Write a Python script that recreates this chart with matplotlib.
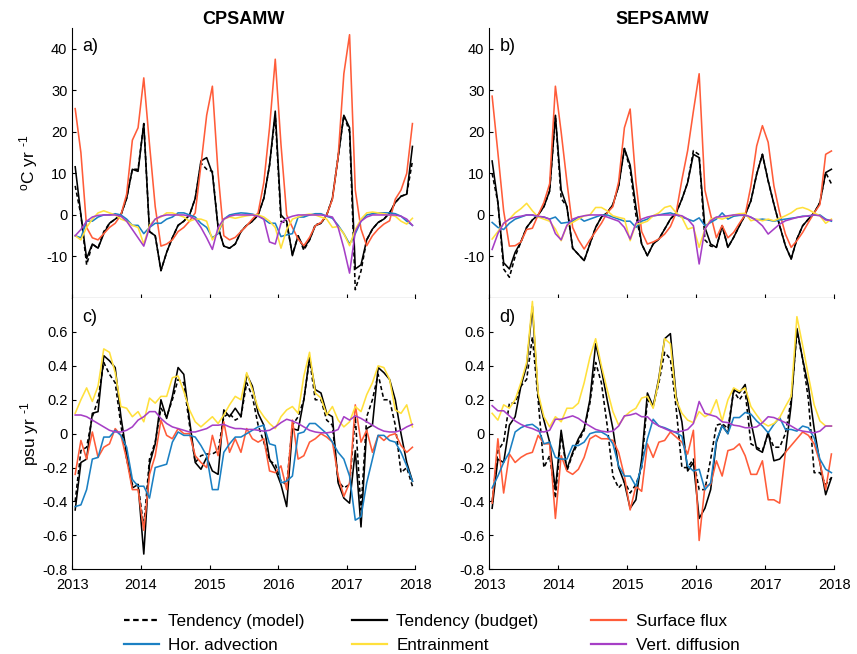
import numpy as np
import matplotlib
matplotlib.use('Agg')
import matplotlib.pyplot as plt
from matplotlib.lines import Line2D
from matplotlib.ticker import FuncFormatter

plt.rcParams['font.family'] = ['Liberation Sans', 'DejaVu Sans']
plt.rcParams['mathtext.fontset'] = 'custom'
plt.rcParams['mathtext.rm'] = 'Liberation Sans'
plt.rcParams['mathtext.it'] = 'Liberation Sans:italic'

# monthly budget terms, Jan 2013 - Dec 2017
years = [2013, 2014, 2015, 2016, 2017, 2018]
n_months = 60

# ---- temperature, CPSAMW (degC/yr)
t_cp_model = [7, 0, -12, -7, -8, -4, -2, -1, 0, 4, 11, 11, 22, -4, -5, -13.4, -9, -5.5, -2.5, -1.5,
              0, 4, 12.5, 11, 10.5, -3, -7.5, -8, -7, -4, -2.5, -1.5, 0, 4, 12, 24, -1.5, -2, -9.5, -5,
              -8.5, -6, -2.3, -2, 0, 4, 14, 24, 20, -18, -13.5, -6, -3.4, -1.8, -1, 0.5, 3, 4.5, 5, 13]
t_cp_budget = [11.6, 0, -10.5, -7, -8, -4.5, -2, -1, 0, 4, 11, 10.5, 22, -4, -5, -13.4, -9, -5.5, -2.5, -1.5,
               0, 4, 13, 13.8, 10, -3, -7.5, -8, -7, -4, -2.5, -1.5, 0, 4, 12, 25, 0, -1.5, -9.8, -5,
               -8, -6, -2.6, -2, 0, 4, 14, 24, 21, -13, -12, -6, -3.4, -1.8, -1, 0.5, 3, 4.5, 5, 16.5]
t_cp_sflux = [25.6, 15, -3, -5.5, -6, -4.5, -3, -2, 0, 5, 18, 21, 33, 17, 2, -7.5, -7, -6, -4, -3,
              -1.5, 0.5, 12, 24, 31, 10, -5, -6, -5.4, -4, -2.6, -1, 0.5, 7.8, 21, 37.5, 17, 0, -3, -5.8,
              -7.4, -5.4, -2.6, -1.8, 0, 3.8, 14, 34, 43.4, 6, -3.4, -7.4, -5, -3.4, -2.2, -1.4, 3.8, 6, 10, 22]
t_cp_hadv = [-5, -5.5, -1.5, -1.5, -0.5, 0, 0, 0.3, 0, -1, -2.5, -2.5, -4.5, -3, -2, -2, -1, -0.5, 0.5, 0.5,
             0, -0.5, -2, -3, -5.5, -4.5, -1, 0, 0.3, 0.5, 0.4, 0.2, -0.2, -1, -2, -2, -5.2, -4.8, -4.5, -0.5,
             -0.5, 0, 0.3, 0.3, -0.3, -0.8, -2.5, -4.5, -7, -4.5, -1.5, 0, 0.3, 0.5, 0.5, 0.5, 0.3, -0.3, -1.5, -2.5]
t_cp_entr = [-5, -6, -3, -1, 0.5, 1, 0.5, 0, -1, -1.5, -2.5, -3, -7, -2.5, -1, -0.5, 0.5, 0.5, 0, -0.5,
             -1.5, -1, -1, -1.5, -6, -4, -1, -0.5, -0.8, -0.5, -0.2, 0, 0, -0.5, -1.5, -3, -8, -3.5, -1, -0.5,
             0, 0.2, 0, -0.5, -1, -3, -2.8, -4.5, -7.4, -3.5, -1, 0.5, 0.7, 0.5, 0.3, 0, -0.3, -1.5, -2.2, -0.8]
t_cp_vdiff = [-5, -3.5, -1.5, -0.5, -0.1, 0, 0, 0, -0.3, -1.5, -3.5, -5.5, -7.5, -3, -1, -0.3, 0, 0, 0, 0,
              -0.3, -1, -3, -5.5, -8.3, -3, -1, -0.3, 0, 0, 0, 0, -0.3, -1, -6.5, -7, -2, -0.8, -0.3, 0,
              0, 0, 0, 0, -0.2, -0.5, -3, -8, -14, -4, -1.5, -0.5, 0, 0, 0, 0, 0, -0.3, -1, -2.5]

# ---- temperature, SEPSAMW (degC/yr)
t_se_model = [10, 3, -13, -15, -10, -6.5, -3, -1.2, 0, 2, 5.8, 24, 4, 2, -8, -9.5, -11, -7, -3, -0.5,
              0.5, 2.5, 7, 16, 11, 0, -7, -9.8, -7, -5.8, -3.4, -1, 0.5, 3.8, 7.8, 15.5, 14.5, -6, -7.5, -7.8,
              -2.6, -7.8, -5.4, -2.6, 0, 3.4, 9.8, 14.6, 8.2, 2.6, -2.6, -7.4, -10.6, -5.8, -2.6, -1, 0.5, 3, 10.2, 7.5]
t_se_budget = [13, 3, -11.5, -13, -9, -6.5, -3, -1.2, 0, 2, 5.8, 24, 6, 2, -8, -9.5, -11, -7, -3, -0.5,
               0.5, 2.5, 7, 16, 12, 2, -7, -9.8, -7, -5.8, -3.4, -1, 0.5, 3.8, 7.8, 14.6, 13.8, -3, -7, -7.8,
               -2.6, -7.8, -5.4, -2.6, 0, 3.4, 9.8, 14.6, 8.2, 2.6, -2.6, -7.4, -10.6, -5.8, -2.6, -1, 0.5, 3, 10.2, 11]
t_se_sflux = [28.6, 15, 1, -7.5, -7.4, -6.5, -3.5, -3.2, 0, 3, 7.5, 31, 20, 8, -3, -6, -8.2, -6, -4, -2,
              0.5, 2, 8, 21, 25.5, 8, -4, -7, -6.5, -5.8, -4.6, -2.8, 0.5, 8.5, 15.5, 25, 34, 6, 0, -5.5,
              -2.5, -5.5, -4.2, -2, 0, 7, 16.6, 21.5, 17.5, 7, 0.5, -4.6, -7.8, -6.2, -4.2, -1.8, 0.5, 2.5, 14.6, 15.4]
t_se_hadv = [-1.8, -3, -3.5, -2, -1, -0.5, 0, 0, -0.5, -0.5, -1, -0.5, -2, -1.8, -1.5, -0.5, -1.5, -1, -0.5, 0,
             0, -0.5, -1, -1.5, -1.5, -3, -1.5, -1, -0.2, 0, 0.3, 0.5, 0, -0.5, -1, -1.5, -0.7, -2.6, -1.8, -1,
             0.5, -1, -0.3, -0.1, -0.1, -0.6, -1.2, -1, -1.2, -1.5, -1.2, -1, -0.8, -0.6, -0.3, -0.3, 0, 0, -1, -1.5]
t_se_entr = [-5.8, -4, -2, -1, 0.5, 1.5, 2.8, 1, -0.5, -1, -1.5, -3.4, -6.2, -2.6, -1.8, -1, -0.2, 0, 1.8, 1.8,
             1, -0.2, -0.6, -0.9, -6.2, -2.2, -2, -1.5, -0.2, 0.5, 1.8, 2.2, 0.5, -0.6, -3.4, -3, -7.8, -3.4, -1, -0.6,
             -1, -0.5, 0, 0.3, 0.4, -1.4, -1, -1.4, -1, -1.4, -0.8, -0.2, 0.5, 1.5, 1.8, 1.3, 0.5, -0.2, -2, -1]
t_se_vdiff = [-8.3, -4.5, -2, -1, -0.5, -0.3, 0, 0, -0.3, -0.5, -1, -4.5, -6, -2.5, -1, -0.5, -0.2, 0, 0, 0,
              -0.5, -1, -1.5, -3, -5.8, -2, -1, -0.5, -0.2, 0, 0, 0, 0, -0.2, -1, -2.6, -11.8, -3.4, -1.4, -0.5,
              -0.4, -0.2, 0, 0, 0, -0.5, -1.4, -2.6, -4.6, -3.4, -2.2, -1.4, -1, -0.6, -0.4, -0.2, 0, -0.2, -1.2, -1.3]

# ---- salinity, CPSAMW (psu/yr)
s_cp_model = [-0.4, -0.1, -0.08, 0.1, 0.2, 0.42, 0.35, 0.3, 0.05, -0.15, -0.3, -0.3, -0.55, -0.15, -0.05, 0.15, 0.1, 0.2, 0.32, 0.3,
              0.05, -0.17, -0.13, -0.12, -0.12, -0.1, 0.1, 0.12, 0.08, 0.1, 0.3, 0.22, 0.05, -0.05, -0.16, -0.18, -0.28, -0.3, 0.05, 0.1,
              0.2, 0.44, 0.2, 0.2, 0.08, 0.05, -0.28, -0.32, -0.3, 0.1, -0.45, 0.1, 0.2, 0.35, 0.2, 0.2, 0.05, -0.23, -0.2, -0.31]
s_cp_budget = [-0.45, -0.17, -0.15, 0.12, 0.13, 0.46, 0.43, 0.39, 0.1, -0.12, -0.32, -0.3, -0.71, -0.18, -0.06, 0.2, 0.09, 0.22, 0.39, 0.35,
               0.08, -0.17, -0.21, -0.14, -0.22, -0.24, 0.14, 0.1, 0.15, 0.1, 0.35, 0.28, 0.12, 0.05, -0.15, -0.21, -0.3, -0.43, 0.03, 0.02,
               0.2, 0.45, 0.26, 0.24, 0.12, 0.1, -0.29, -0.38, -0.41, -0.1, -0.55, 0.03, 0.05, 0.39, 0.36, 0.32, 0.2, 0, -0.17, -0.28]
s_cp_sflux = [-0.24, -0.04, -0.15, 0.01, -0.14, -0.08, -0.06, 0.03, -0.01, -0.15, -0.33, -0.33, -0.57, -0.24, -0.13, 0.08, -0.01, -0.03, 0.03, 0,
              0, -0.13, -0.17, -0.2, -0.01, -0.13, 0.07, -0.11, -0.03, -0.11, 0.03, -0.03, -0.05, -0.03, -0.22, -0.23, -0.19, -0.33, 0.08, -0.15,
              -0.13, -0.05, -0.03, 0, -0.02, -0.05, -0.25, -0.37, -0.29, 0.17, -0.05, 0.02, -0.11, -0.01, -0.04, -0.01, 0, -0.07, -0.11, -0.08]
s_cp_hadv = [-0.43, -0.42, -0.33, -0.15, -0.14, -0.02, -0.02, 0.02, -0.01, -0.08, -0.27, -0.31, -0.31, -0.38, -0.2, -0.19, -0.18, -0.05, 0.01, -0.01,
             -0.01, -0.02, -0.07, -0.13, -0.33, -0.33, -0.11, -0.06, -0.02, -0.02, 0, 0.02, 0.04, 0.05, -0.06, -0.07, -0.29, -0.28, -0.25, 0,
             0.01, 0.06, 0.06, 0.03, 0, -0.05, -0.11, -0.15, -0.25, -0.51, -0.49, -0.29, -0.15, -0.01, -0.01, -0.04, -0.05, -0.11, -0.19, -0.28]
s_cp_entr = [0.12, 0.2, 0.27, 0.19, 0.28, 0.5, 0.48, 0.36, 0.16, 0.15, 0.1, 0.13, 0.07, 0.21, 0.18, 0.22, 0.22, 0.33, 0.34, 0.25,
             0.14, 0.07, 0.04, 0.07, 0.1, 0.06, 0.11, 0.17, 0.22, 0.2, 0.36, 0.26, 0.15, 0.1, 0.06, 0.03, 0.1, 0.14, 0.16, 0.12,
             0.34, 0.48, 0.24, 0.21, 0.11, 0.16, 0.08, 0.04, 0.07, 0.16, 0.13, 0.23, 0.3, 0.4, 0.39, 0.32, 0.14, 0.12, 0.17, 0.04]
s_cp_vdiff = [0.11, 0.11, 0.1, 0.08, 0.06, 0.04, 0.02, 0.01, 0.01, 0.02, 0.04, 0.08, 0.1, 0.13, 0.13, 0.09, 0.06, 0.04, 0.03, 0.02,
              0.01, 0.01, 0.02, 0.03, 0.05, 0.05, 0.055, 0.04, 0.03, 0.03, 0.025, 0.025, 0.02, 0.015, 0.02, 0.04, 0.065, 0.085, 0.075, 0.06,
              0.04, 0.02, 0.01, 0.005, 0.005, 0.01, 0.025, 0.1, 0.08, 0.105, 0.09, 0.07, 0.05, 0.03, 0.015, 0.01, 0.01, 0.02, 0.04, 0.055]

# ---- salinity, SEPSAMW (psu/yr)
s_se_model = [-0.4, -0.1, -0.05, 0.18, 0.18, 0.28, 0.32, 0.57, 0.2, -0.2, -0.13, -0.38, 0, -0.22, -0.12, -0.05, 0.02, 0.18, 0.42, 0.3,
              0.05, -0.25, -0.32, -0.28, -0.35, -0.3, -0.2, 0.2, 0.16, 0.3, 0.48, 0.44, 0.15, -0.2, -0.2, -0.15, -0.33, -0.33, -0.15, 0.05,
              0.06, 0.03, 0.25, 0.2, 0.25, -0.06, -0.08, -0.1, 0, -0.08, -0.08, 0, 0.2, 0.6, 0.44, 0.2, -0.23, -0.23, -0.3, -0.26]
s_se_budget = [-0.44, -0.15, -0.17, 0.05, 0.1, 0.28, 0.4, 0.75, 0.22, 0.08, -0.05, -0.33, 0.02, -0.21, -0.11, -0.03, 0.03, 0.2, 0.53, 0.38,
               0.2, 0.03, -0.2, -0.29, -0.44, -0.39, -0.15, 0.24, 0.16, 0.33, 0.56, 0.59, 0.22, 0.07, -0.22, -0.17, -0.5, -0.44, -0.33, -0.05,
               0.05, 0, 0.26, 0.24, 0.29, 0.07, -0.09, -0.11, 0.01, -0.16, -0.15, -0.11, 0.17, 0.62, 0.44, 0.28, 0.03, -0.17, -0.36, -0.26]
s_se_sflux = [-0.41, -0.03, -0.35, -0.12, -0.17, -0.14, -0.12, -0.11, -0.01, -0.06, -0.06, -0.5, -0.13, -0.22, -0.24, -0.21, -0.14, -0.03, -0.01, -0.03,
              -0.03, -0.04, -0.11, -0.25, -0.45, -0.31, -0.34, -0.06, -0.14, -0.05, -0.04, 0.01, -0.02, -0.05, -0.12, 0.02, -0.63, -0.31, -0.3, -0.16,
              -0.25, -0.1, -0.09, -0.06, -0.13, -0.24, -0.24, -0.16, -0.39, -0.39, -0.41, -0.11, -0.07, -0.03, 0.01, -0.01, -0.06, -0.17, -0.33, -0.12]
s_se_hadv = [-0.32, -0.25, -0.17, -0.11, 0.01, 0.035, 0.05, 0.055, 0.03, -0.06, -0.05, -0.14, -0.15, -0.15, -0.07, -0.07, -0.05, 0, 0.01, 0.01,
             -0.01, -0.06, -0.19, -0.25, -0.25, -0.31, -0.19, -0.03, 0.085, 0.045, 0.035, 0.02, 0.005, -0.015, -0.19, -0.22, -0.21, -0.33, -0.29, -0.04,
             0.045, 0, 0.095, 0.095, 0.125, 0.115, 0.075, 0.045, 0.005, 0.055, 0.095, 0.025, 0.025, 0.015, 0.045, 0.035, -0.025, -0.15, -0.21, -0.23]
s_se_entr = [0.12, 0.08, 0.17, 0.15, 0.2, 0.3, 0.42, 0.78, 0.24, 0.1, 0.04, 0.1, 0.07, 0.15, 0.15, 0.18, 0.3, 0.45, 0.56, 0.4,
             0.26, 0.13, 0.05, 0.1, 0.13, 0.15, 0.21, 0.22, 0.15, 0.32, 0.56, 0.53, 0.2, 0.12, 0.08, 0.065, 0.13, 0.1, 0.12, 0.2,
             0.075, 0.2, 0.27, 0.25, 0.27, 0.16, 0.11, 0.065, 0.045, 0.06, 0.095, 0.16, 0.22, 0.69, 0.52, 0.34, 0.17, 0.075, 0.045, 0.045]
s_se_vdiff = [0.165, 0.135, 0.135, 0.105, 0.075, 0.055, 0.04, 0.03, 0.015, 0.01, 0.02, 0.085, 0.085, 0.095, 0.105, 0.09, 0.065, 0.045, 0.025, 0.015,
              0.01, 0.015, 0.045, 0.105, 0.11, 0.12, 0.1, 0.1, 0.065, 0.045, 0.03, 0.015, 0.01, 0.015, 0.025, 0.06, 0.19, 0.12, 0.11, 0.1,
              0.07, 0.065, 0.05, 0.045, 0.035, 0.035, 0.04, 0.065, 0.1, 0.095, 0.08, 0.065, 0.045, 0.025, 0.015, 0.01, 0.005, 0.015, 0.045, 0.045]

labels = ['Tendency (model)', 'Tendency (budget)', 'Surface flux',
          'Hor. advection', 'Entrainment', 'Vert. diffusion']
colors = ['black', 'black', '#FF5C39', '#1B80C3', '#FFE03C', '#A63FC6']
model_dash = (2.6, 1.7)

time = years[0] + (np.arange(n_months) + 0.5) / 12.0


def num_fmt(v, pos):
    # plain hyphen for negatives, no trailing zeros
    return ('%g' % round(v, 2))


def draw_panel(ax, series, ylim, yticks, tag, show_x):
    for k, vals in enumerate(series):
        if k == 0:
            ax.plot(time, vals, color=colors[k], lw=1.15, dashes=model_dash)
        else:
            ax.plot(time, vals, color=colors[k], lw=1.15)
    ax.set_xlim(2013, 2018)
    ax.set_ylim(*ylim)
    ax.set_xticks(years)
    ax.set_yticks(yticks)
    ax.yaxis.set_major_formatter(FuncFormatter(num_fmt))
    ax.spines['top'].set_visible(False)
    ax.spines['right'].set_visible(False)
    ax.tick_params(direction='in', length=3, labelsize=10.5, width=0.8)
    ax.tick_params(axis='x', pad=6.5)
    if not show_x:
        ax.set_xticklabels([])
    ax.text(0.03, 0.93, tag, transform=ax.transAxes, fontsize=13, va='center', ha='left')


fig = plt.figure(figsize=(8.57, 6.54), dpi=100)
ax_a = fig.add_axes([0.0844, 0.5443, 0.4002, 0.4128])
ax_b = fig.add_axes([0.5709, 0.5443, 0.4026, 0.4128])
ax_c = fig.add_axes([0.0844, 0.1295, 0.4002, 0.4148])
ax_d = fig.add_axes([0.5709, 0.1295, 0.4026, 0.4148])

t_ticks = [-10, 0, 10, 20, 30, 40]
s_ticks = [-0.8, -0.6, -0.4, -0.2, 0, 0.2, 0.4, 0.6]

draw_panel(ax_a, [t_cp_model, t_cp_budget, t_cp_sflux, t_cp_hadv, t_cp_entr, t_cp_vdiff],
           (-20, 45), t_ticks, 'a)', False)
draw_panel(ax_b, [t_se_model, t_se_budget, t_se_sflux, t_se_hadv, t_se_entr, t_se_vdiff],
           (-20, 45), t_ticks, 'b)', False)
draw_panel(ax_c, [s_cp_model, s_cp_budget, s_cp_sflux, s_cp_hadv, s_cp_entr, s_cp_vdiff],
           (-0.8, 0.8), s_ticks, 'c)', True)
draw_panel(ax_d, [s_se_model, s_se_budget, s_se_sflux, s_se_hadv, s_se_entr, s_se_vdiff],
           (-0.8, 0.8), s_ticks, 'd)', True)

ax_a.set_title('CPSAMW', fontsize=13, fontweight='bold', pad=0.5)
ax_b.set_title('SEPSAMW', fontsize=13, fontweight='bold', pad=0.5)
ax_a.set_ylabel('$^{\\rm o}$C yr $^{\u20101}$', fontsize=12.5, labelpad=4.5)
ax_c.set_ylabel('psu yr $^{\u20101}$', fontsize=12.5, labelpad=1)

# legend: three columns of two entries, placed one column at a time
handles = [Line2D([], [], color=colors[0], lw=1.6, dashes=(2.5, 1.6)),
           Line2D([], [], color=colors[1], lw=1.6),
           Line2D([], [], color=colors[2], lw=1.6),
           Line2D([], [], color=colors[3], lw=1.6),
           Line2D([], [], color=colors[4], lw=1.6),
           Line2D([], [], color=colors[5], lw=1.6)]
col_x = [123.5 / 857, 351.5 / 857, 591.0 / 857]
for c in range(3):
    fig.legend([handles[c], handles[c + 3]], [labels[c], labels[c + 3]],
               loc='center left', bbox_to_anchor=(col_x[c], 0.0316),
               frameon=False, fontsize=12.3, handlelength=2.05, handletextpad=0.58,
               labelspacing=0.52, borderpad=0, borderaxespad=0)

fig.savefig('out.png', dpi=100)
